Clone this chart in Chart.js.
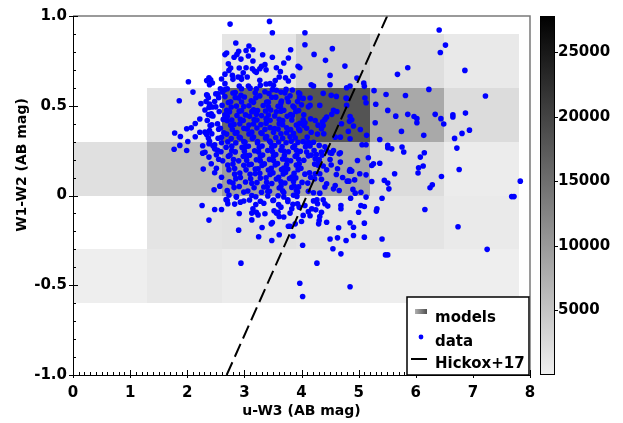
<!DOCTYPE html>
<html>
<head>
<meta charset="utf-8">
<script src="https://cdn.jsdelivr.net/npm/chart.js@4.4.1/dist/chart.umd.min.js"></script>
<style>
  html, body { margin: 0; padding: 0; background: #fff; }
</style>
</head>
<body>
<canvas id="chart" width="623" height="423"></canvas>
<script>
const xTicks = [0, 1, 2, 3, 4, 5, 6, 7, 8];
const yTicks = [-1, -0.5, 0, 0.5, 1];
const colorbarTicks = [5000, 10000, 15000, 20000, 25000];
const colorbarMax = 27800;

// model grid, rows from bottom (-0.6) to top (0.9); null = no models
const modelXEdges = [0, 1.3, 2.6, 3.9, 5.2, 6.5, 7.8];
const modelYEdges = [-0.6, -0.3, 0, 0.3, 0.6, 0.9];
const modelCounts = [
  [230, 930, 460, 460, 230, 230],
  [null, 1390, 1620, 1390, 1390, 700],
  [1850, 5910, 9600, 8600, 2320, 460],
  [null, 1390, 15730, 18120, 8220, 2320],
  [null, null, 1270, 3710, 2090, 810]
];

const hickoxLine = [[2.69, -1.0], [5.5, 1.0]];

const dataPoints = [
  // upper part
  [2.75,0.955],[3.44,0.97],[3.49,0.907],[4.06,0.907],[4.06,0.84],[4.22,0.786],[4.54,0.818],[4.42,0.753],
  [4.76,0.721],[4.50,0.669],[4.50,0.617],[4.97,0.654],[6.41,0.922],[6.52,0.838],[6.43,0.797],[6.86,0.697],
  [5.86,0.712],[5.68,0.675],[6.23,0.591],[7.22,0.554],[5.27,0.584],[5.48,0.563],[5.82,0.557],
  [2.85,0.85],[3.08,0.833],[3.03,0.808],[3.15,0.812],[2.69,0.794],[2.66,0.785],[2.90,0.803],[2.87,0.786],
  [2.94,0.76],[2.82,0.77],[3.07,0.777],[3.15,0.749],[3.32,0.784],[3.49,0.77],[3.69,0.738],[3.81,0.812],
  [3.77,0.766],[3.94,0.72],[3.97,0.712],[2.72,0.734],[2.76,0.71],[2.73,0.697],[2.91,0.71],[3.03,0.712],
  [3.14,0.706],[3.18,0.693],[3.21,0.686],[3.27,0.706],[3.30,0.72],[3.36,0.729],[3.38,0.70],[3.27,0.642],
  [3.56,0.712],[3.63,0.69],[3.61,0.66],[3.54,0.641],[3.72,0.656],[3.77,0.638],[3.85,0.665],[2.98,0.684],
  [2.94,0.658],[2.95,0.647],[3.05,0.66],[2.89,0.66],[2.79,0.669],[2.80,0.647],[2.66,0.676],[2.60,0.649],
  [2.38,0.656],[2.41,0.645],[2.34,0.64],[2.39,0.617],[2.44,0.627],[2.02,0.634],[2.10,0.576],[1.86,0.528],
  [2.35,0.558],[2.39,0.509],[2.44,0.493],[2.48,0.524],[2.54,0.567],[2.58,0.595],[2.66,0.623],[2.62,0.576],
  [2.66,0.59],[2.91,0.61],[2.95,0.595],[2.94,0.558],[2.90,0.543],[3.07,0.61],[3.21,0.595],[3.28,0.614],
  [3.38,0.621],[3.45,0.623],[3.51,0.614],[3.56,0.586],[3.64,0.576],[3.73,0.591],
  [4.17,0.617],[4.21,0.61],[4.85,0.61],[4.79,0.6],[5.09,0.626],[5.10,0.608],[4.38,0.569],[4.52,0.558],
  [4.61,0.552],[4.78,0.543],[5.11,0.543],[5.13,0.517],[5.30,0.508],
  // right part
  [5.51,0.474],[5.65,0.442],[5.86,0.452],[5.97,0.44],[6.02,0.428],[6.02,0.405],[6.34,0.452],[6.44,0.428],
  [6.49,0.398],[6.65,0.45],[6.65,0.437],[6.87,0.459],[6.94,0.364],[6.81,0.346],[6.68,0.318],[6.72,0.264],
  [6.76,0.145],[6.45,0.106],[7.83,0.08],[7.68,-0.006],[7.72,-0.006],[6.74,-0.174],[7.25,-0.30],
  [5.29,0.405],[5.75,0.357],[6.14,0.335],[5.37,0.312],[5.51,0.279],[5.51,0.266],[5.58,0.26],[5.76,0.27],
  [5.79,0.242],[6.15,0.238],[6.08,0.214],[6.05,0.154],[6.04,0.125],[6.13,0.164],[6.29,0.06],[6.25,0.043],
  [5.63,0.121],[5.45,0.084],[5.51,0.069],[5.53,0.037],[5.17,0.21],[5.23,0.167],[5.26,0.177],[5.37,0.18],
  [5.13,0.115],[5.23,0.078],[5.41,-0.015],[6.16,-0.078],
  // dark model cell
  [3.97,0.545],[4.15,0.543],[4.15,0.502],[4.0,0.505],[4.32,0.502],[4.56,0.474],[4.53,0.452],[4.62,0.468],
  [4.44,0.437],[4.41,0.424],[4.37,0.41],[4.38,0.39],[4.35,0.372],[4.39,0.344],[4.70,0.4],[4.68,0.325],
  [4.59,0.325],[4.85,0.44],[4.88,0.422],[4.84,0.413],[4.91,0.387],[4.82,0.357],[5.03,0.368],[5.14,0.335],
  [4.85,0.316],[5.06,0.283],[5.13,0.283],[4.03,0.422],[4.06,0.405],[4.04,0.39],[3.97,0.362],[4.12,0.297],
  [4.09,0.288],[4.21,0.297],[4.79,0.54],[4.79,0.502],
  // x > 4, 0 < y < 0.3
  [4.53,0.236],[4.66,0.232],[4.68,0.186],[4.98,0.195],[4.85,0.145],[4.84,0.136],[4.88,0.136],[4.63,0.149],
  [4.44,0.143],[5.02,0.121],[4.61,0.117],[4.93,0.087],[4.80,0.08],[4.83,0.08],[4.59,0.056],[4.56,0.037],
  [4.90,0.034],[4.94,0.013],[5.04,0.018],[4.66,0.028],[4.44,0.065],[4.41,0.047],[4.32,0.013],[4.21,0.015],
  [4.86,-0.015],[4.09,0.242],[4.26,0.228],[4.35,0.242],[4.24,0.205],[4.30,0.195],[4.38,0.164],[4.32,0.121],
  [4.24,0.121],[4.50,0.238],[4.56,0.251],[4.68,0.238],[4.31,0.279],[4.41,0.272],[4.44,0.251],[4.36,0.225],
  [4.50,0.2],[4.52,0.17],[4.72,0.1],[4.35,0.09],
  // left side
  [1.78,0.348],[1.88,0.329],[1.99,0.372],[2.01,0.301],[1.77,0.258],[1.87,0.279],[1.99,0.251],[2.27,0.277],
  [2.27,0.236],[2.38,0.214],[2.28,0.147],[2.47,0.032],[2.42,0.446],[2.31,0.353],[2.39,0.362],[2.34,0.34],
  [2.38,0.288],[2.48,0.283],[2.48,0.26],[2.34,0.561],[2.37,0.544],[2.38,0.49],[2.42,0.455],[2.37,0.32],
  [2.40,0.39],[2.31,0.241],
  // below zero
  [2.26,-0.056],[2.38,-0.137],[2.48,-0.078],[2.60,-0.078],[2.70,-0.028],[2.71,-0.046],[2.86,-0.009],[2.91,-0.10],
  [2.90,-0.193],[2.93,-0.037],[2.94,-0.377],[3.13,-0.136],[3.13,-0.098],[3.15,-0.074],[3.25,-0.23],[3.31,-0.178],
  [3.34,-0.043],[3.36,-0.102],[3.21,-0.093],[3.24,-0.108],[3.47,-0.158],[3.49,-0.15],[3.48,-0.251],[3.52,-0.085],
  [3.56,-0.098],[3.59,-0.093],[3.61,-0.117],[3.61,-0.219],[3.64,-0.065],[3.69,-0.12],[3.77,-0.171],[3.80,-0.171],
  [3.80,-0.098],[3.83,-0.074],[3.85,-0.227],[3.89,-0.158],[3.93,-0.046],[3.96,-0.065],[3.97,-0.489],[4.02,-0.277],
  [4.02,-0.563],[4.03,-0.111],[4.06,-0.056],[4.0,-0.145],
  [4.15,-0.113],[4.18,-0.074],[4.25,-0.08],[4.27,-0.024],[4.28,-0.046],[4.31,-0.139],[4.30,-0.158],[4.32,-0.117],
  [4.35,-0.093],[4.44,-0.149],[4.46,-0.059],[4.41,-0.046],[4.38,-0.024],[4.50,-0.242],[4.63,-0.236],[4.78,-0.251],
  [4.55,-0.297],[4.65,-0.18],[4.69,-0.056],[4.69,-0.074],[4.85,-0.152],[4.91,-0.177],[4.91,-0.223],[4.69,-0.325],
  [5.0,-0.093],[5.04,-0.056],[5.10,-0.061],[5.10,-0.154],[5.10,-0.232],[5.13,-0.009],[5.32,-0.074],[5.31,-0.087],
  [5.41,-0.242],[5.47,-0.331],[5.51,-0.331],[4.27,-0.377],[4.85,-0.508],[4.21,-0.03],[4.12,-0.09],
  // dense core
  [2.70,0.595],[2.84,0.574],[3.10,0.598],[3.36,0.578],[3.49,0.590],[3.84,0.588],[3.95,0.572],
  [2.50,0.566],[2.66,0.551],[2.80,0.571],[3.00,0.549],[3.19,0.572],[3.27,0.555],[3.43,0.568],[3.55,0.548],
  [3.71,0.572],[3.80,0.556],[3.97,0.566],
  [2.33,0.524],[2.55,0.545],[2.76,0.522],[2.84,0.546],[3.12,0.528],[3.20,0.544],[3.39,0.521],[3.48,0.547],
  [3.65,0.526],[3.75,0.542],[3.93,0.523],[4.03,0.541],
  [2.24,0.512],[2.61,0.502],[2.72,0.518],[2.86,0.498],[2.95,0.521],[3.08,0.500],[3.16,0.519],[3.33,0.501],
  [3.42,0.520],[3.59,0.497],[3.64,0.516],[3.77,0.522],[3.85,0.499],
  [2.31,0.476],[2.50,0.494],[2.69,0.474],[2.77,0.493],[2.95,0.472],[2.99,0.496],[3.16,0.478],[3.23,0.473],
  [3.42,0.494],[3.46,0.476],[3.63,0.497],[3.69,0.475],[3.87,0.492],[3.95,0.473],[4.12,0.494],
  [2.37,0.451],[2.56,0.468],[2.66,0.449],[2.74,0.466],[2.91,0.470],[3.02,0.449],[3.13,0.467],[3.21,0.452],
  [3.37,0.471],[3.42,0.448],[3.56,0.466],[3.64,0.470],[3.81,0.451],[3.90,0.468],[4.04,0.450],
  [2.22,0.426],[2.45,0.443],[2.63,0.424],[2.70,0.442],[2.87,0.446],[2.93,0.425],[3.09,0.441],[3.17,0.423],
  [3.30,0.445],[3.38,0.428],[3.53,0.443],[3.61,0.424],[3.75,0.441],[3.84,0.446],[4.16,0.427],
  [2.14,0.401],[2.35,0.418],[2.53,0.399],[2.70,0.417],[2.78,0.421],[2.92,0.400],[2.98,0.418],[3.16,0.398],
  [3.22,0.420],[3.38,0.403],[3.45,0.419],[3.61,0.399],[3.67,0.417],[3.83,0.421],[3.97,0.402],[4.24,0.418],
  [2.07,0.377],[2.43,0.394],[2.58,0.375],[2.76,0.392],[2.82,0.396],[2.99,0.374],[3.08,0.393],[3.22,0.376],
  [3.29,0.395],[3.45,0.378],[3.53,0.373],[3.67,0.394],[3.74,0.377],[3.91,0.393],[4.09,0.375],[4.29,0.392],
  [2.22,0.352],[2.55,0.369],[2.64,0.350],[2.79,0.368],[2.87,0.351],[3.05,0.371],[3.13,0.353],[3.29,0.349],
  [3.36,0.369],[3.51,0.352],[3.59,0.370],[3.74,0.350],[3.81,0.367],[3.95,0.372],[4.17,0.352],
  [2.14,0.327],[2.43,0.344],[2.60,0.324],[2.69,0.342],[2.84,0.347],[2.91,0.325],[3.08,0.343],[3.16,0.326],
  [3.31,0.345],[3.39,0.328],[3.55,0.323],[3.64,0.344],[3.80,0.327],[3.86,0.346],[4.10,0.325],[4.28,0.342],
  [2.39,0.302],[2.54,0.319],[2.71,0.299],[2.77,0.317],[2.93,0.321],[2.99,0.300],[3.14,0.318],[3.23,0.301],
  [3.37,0.320],[3.44,0.303],[3.60,0.298],[3.67,0.319],[3.82,0.302],[3.89,0.321],[4.03,0.300],
  [2.45,0.277],[2.60,0.294],[2.78,0.275],[2.85,0.293],[3.01,0.297],[3.07,0.274],[3.23,0.292],[3.31,0.276],
  [3.46,0.295],[3.53,0.278],[3.66,0.273],[3.73,0.294],[3.88,0.277],[3.94,0.296],[4.15,0.276],
  [2.53,0.252],[2.68,0.269],[2.78,0.250],[2.96,0.268],[3.02,0.272],[3.18,0.249],[3.26,0.267],[3.41,0.251],
  [3.48,0.270],[3.64,0.253],[3.69,0.248],[3.85,0.269],[3.91,0.252],[4.07,0.271],[4.22,0.251],
  [2.51,0.227],[2.59,0.244],[2.75,0.225],[2.84,0.243],[3.00,0.247],[3.09,0.224],[3.25,0.242],[3.32,0.226],
  [3.49,0.245],[3.55,0.228],[3.70,0.223],[3.77,0.244],[3.92,0.227],[3.98,0.246],[4.17,0.225],
  [2.55,0.202],[2.72,0.219],[2.81,0.200],[2.98,0.218],[3.05,0.222],[3.21,0.199],[3.28,0.217],[3.44,0.201],
  [3.51,0.220],[3.67,0.203],[3.74,0.198],[3.89,0.219],[3.95,0.202],[4.12,0.221],[4.31,0.200],
  [2.42,0.177],[2.62,0.194],[2.80,0.175],[2.90,0.193],[3.04,0.197],[3.12,0.174],[3.28,0.192],[3.35,0.176],
  [3.51,0.195],[3.58,0.178],[3.74,0.173],[3.81,0.194],[3.96,0.177],[4.04,0.196],[4.23,0.175],
  [2.51,0.152],[2.71,0.169],[2.83,0.150],[2.99,0.168],[3.08,0.172],[3.24,0.149],[3.31,0.167],[3.47,0.151],
  [3.54,0.170],[3.69,0.153],[3.76,0.148],[3.91,0.169],[3.99,0.152],[4.29,0.168],
  [2.48,0.127],[2.73,0.144],[2.92,0.125],[3.03,0.143],[3.19,0.147],[3.27,0.124],[3.42,0.142],[3.50,0.126],
  [3.65,0.145],[3.72,0.128],[3.87,0.123],[3.94,0.144],[4.14,0.127],
  [2.60,0.102],[2.83,0.119],[2.93,0.100],[3.10,0.118],[3.19,0.122],[3.38,0.099],[3.45,0.117],[3.60,0.101],
  [3.68,0.120],[3.83,0.103],[3.90,0.098],[4.06,0.119],[4.16,0.102],
  [2.74,0.077],[2.85,0.094],[3.02,0.075],[3.11,0.093],[3.28,0.097],[3.39,0.074],[3.56,0.092],[3.64,0.076],
  [3.79,0.095],[3.86,0.078],[4.01,0.073],[4.23,0.093],
  [2.57,0.052],[2.80,0.069],[2.91,0.050],[3.13,0.068],[3.22,0.072],[3.40,0.049],[3.48,0.067],[3.64,0.051],
  [3.71,0.070],[3.87,0.053],[3.95,0.048],[4.11,0.069],
  [2.70,0.027],[2.82,0.044],[3.06,0.025],[3.17,0.043],[3.34,0.047],[3.44,0.024],[3.61,0.042],[3.67,0.026],
  [3.83,0.045],[3.91,0.028],[4.12,0.023],
  [2.73,0.002],[2.99,0.019],[3.13,0.000],[3.30,0.018],[3.41,0.022],[3.59,-0.001],[3.69,0.017],[3.86,0.001],
  [3.93,0.020],
  [2.68,-0.023],[2.86,-0.006],[3.09,-0.025],[3.20,-0.007],[3.41,-0.003],[3.51,-0.026],[3.69,-0.008],[3.76,-0.024],
  [3.92,-0.005],
  [2.83,-0.048],[2.99,-0.031],[3.20,-0.050],[3.28,-0.032],[3.50,-0.028],[3.60,-0.051],[3.76,-0.033],[3.85,-0.049]
];

const fontFamily = '"DejaVu Sans", "Liberation Sans", sans-serif';
const tickFont = { family: fontFamily, size: 15, weight: 'bold' };

function cellColor(v) {
  const g = Math.round(240 * (1 - v / colorbarMax));
  return `rgb(${g},${g},${g})`;
}

// keep the plot box fixed: no extra room for label overflow
function fixBox(size) {
  return (s) => {
    if (s.isHorizontal()) s.height = size; else s.width = size;
    s.paddingTop = 0;
    s.paddingBottom = 0;
    s.paddingLeft = 0;
    s.paddingRight = 0;
  };
}

const decorations = {
  id: 'decorations',
  beforeDatasetsDraw(chart) {
    const { ctx, scales: { x, y } } = chart;
    ctx.save();
    modelCounts.forEach((row, j) => {
      row.forEach((v, i) => {
        if (v === null) return;
        const x0 = Math.round(x.getPixelForValue(modelXEdges[i]));
        const x1 = Math.round(x.getPixelForValue(modelXEdges[i + 1]));
        const y0 = Math.round(y.getPixelForValue(modelYEdges[j + 1]));
        const y1 = Math.round(y.getPixelForValue(modelYEdges[j]));
        ctx.fillStyle = cellColor(v);
        ctx.fillRect(x0, y0, x1 - x0, y1 - y0);
      });
    });
    ctx.restore();
  },
  afterDraw(chart) {
    const { ctx, chartArea: a, scales: { x, y, cb } } = chart;
    ctx.save();

    // frame
    ctx.lineWidth = 1.5;
    ctx.strokeStyle = '#7a7a7a';
    ctx.beginPath();
    ctx.moveTo(a.left, a.top);
    ctx.lineTo(a.right, a.top);
    ctx.lineTo(a.right, a.bottom);
    ctx.stroke();

    ctx.lineWidth = 1;
    ctx.strokeStyle = '#000';
    ctx.beginPath();
    ctx.moveTo(a.left + 0.5, a.top);
    ctx.lineTo(a.left + 0.5, a.bottom + 0.5);
    ctx.lineTo(a.right, a.bottom + 0.5);
    // inward tick marks every 0.1
    for (let i = 0; i <= 80; i++) {
      const px = Math.round(x.getPixelForValue(i / 10)) + 0.5;
      const major = i % 10 === 0;
      ctx.moveTo(px, a.bottom + (major ? 3 : 0));
      ctx.lineTo(px, a.bottom - (major ? 5 : 3));
    }
    for (let i = -10; i <= 10; i++) {
      const py = Math.round(y.getPixelForValue(i / 10)) + 0.5;
      const major = i % 5 === 0;
      ctx.moveTo(a.left - (major ? 4 : 0), py);
      ctx.lineTo(a.left + (major ? 5 : 3), py);
    }
    ctx.stroke();

    // colorbar
    const cbTop = cb.getPixelForValue(colorbarMax);
    const cbBottom = cb.getPixelForValue(0);
    const cbLeft = cb.left + 10;
    const grad = ctx.createLinearGradient(0, cbBottom, 0, cbTop);
    grad.addColorStop(0, cellColor(0));
    grad.addColorStop(1, cellColor(colorbarMax));
    ctx.fillStyle = grad;
    ctx.fillRect(cbLeft, cbTop, 15, cbBottom - cbTop);
    ctx.strokeStyle = '#000';
    ctx.lineWidth = 1;
    ctx.strokeRect(cbLeft + 0.5, cbTop + 0.5, 14, cbBottom - cbTop - 1);
    ctx.beginPath();
    colorbarTicks.forEach((v) => {
      const py = Math.round(cb.getPixelForValue(v)) + 0.5;
      ctx.moveTo(cbLeft + 15, py);
      ctx.lineTo(cbLeft + 18, py);
    });
    ctx.stroke();

    // legend box
    const lx = a.right - 123;
    const ly = a.bottom - 78;
    ctx.fillStyle = '#fff';
    ctx.fillRect(lx, ly, a.right - lx, a.bottom - ly);
    ctx.lineWidth = 1.5;
    ctx.strokeStyle = '#000';
    ctx.strokeRect(lx, ly, a.right - lx - 1, a.bottom - ly);

    const sw = ctx.createLinearGradient(lx + 8, 0, lx + 20, 0);
    sw.addColorStop(0, '#b0b0b0');
    sw.addColorStop(1, '#505050');
    ctx.fillStyle = sw;
    ctx.fillRect(lx + 8, ly + 12, 12, 5);

    ctx.fillStyle = '#0000ff';
    ctx.beginPath();
    ctx.arc(lx + 14, ly + 40, 2.4, 0, Math.PI * 2);
    ctx.fill();

    ctx.strokeStyle = '#000';
    ctx.lineWidth = 2;
    ctx.beginPath();
    ctx.moveTo(lx + 4, ly + 62);
    ctx.lineTo(lx + 20, ly + 62);
    ctx.stroke();

    ctx.fillStyle = '#000';
    ctx.font = `bold 15px ${fontFamily}`;
    ctx.textAlign = 'left';
    ctx.textBaseline = 'alphabetic';
    ctx.fillText('models', lx + 28, ly + 25);
    ctx.fillText('data', lx + 28, ly + 49);
    ctx.fillText('Hickox+17', lx + 28, ly + 71);

    // axis titles
    ctx.font = `bold 14px ${fontFamily}`;
    ctx.textAlign = 'center';
    ctx.fillText('u-W3 (AB mag)', (a.left + a.right) / 2, 415);
    ctx.translate(22, 165);
    ctx.rotate(-Math.PI / 2);
    ctx.textBaseline = 'middle';
    ctx.fillText('W1-W2 (AB mag)', 0, 0);
    ctx.restore();
  }
};

new Chart(document.getElementById('chart'), {
  type: 'scatter',
  data: {
    datasets: [
      {
        label: 'Hickox+17',
        data: hickoxLine.map(([u, w]) => ({ x: u, y: w })),
        showLine: true,
        borderColor: '#000',
        borderWidth: 2,
        borderDash: [14, 6],
        pointRadius: 0,
        fill: false,
        order: 0
      },
      {
        label: 'data',
        data: dataPoints.map(([u, w]) => ({ x: u, y: w })),
        backgroundColor: '#0000ff',
        borderWidth: 0,
        pointRadius: 2.8,
        order: 1
      }
    ]
  },
  options: {
    responsive: false,
    animation: false,
    devicePixelRatio: 1,
    layout: { padding: { top: 16, right: 0, bottom: 0, left: 0 } },
    plugins: {
      legend: { display: false },
      tooltip: { enabled: false }
    },
    scales: {
      x: {
        type: 'linear',
        position: 'bottom',
        min: 0,
        max: 8,
        afterBuildTicks: (s) => { s.ticks = xTicks.map((v) => ({ value: v })); },
        afterFit: fixBox(48),
        grid: { display: false, drawTicks: false },
        border: { display: false },
        ticks: { color: '#000', font: tickFont, padding: 9, maxRotation: 0, callback: (v) => String(v) }
      },
      y: {
        type: 'linear',
        position: 'left',
        min: -1,
        max: 1,
        afterBuildTicks: (s) => { s.ticks = yTicks.map((v) => ({ value: v })); },
        afterFit: fixBox(73),
        grid: { display: false, drawTicks: false },
        border: { display: false },
        ticks: { color: '#000', font: tickFont, padding: 6, callback: (v) => (v === 0 ? '0' : v.toFixed(1)) }
      },
      cb: {
        type: 'linear',
        position: 'right',
        min: 0,
        max: colorbarMax,
        afterBuildTicks: (s) => { s.ticks = colorbarTicks.map((v) => ({ value: v })); },
        afterFit: fixBox(93),
        grid: { display: false, drawTicks: false },
        border: { display: false },
        ticks: { color: '#000', font: tickFont, padding: 28, callback: (v) => String(v) }
      }
    }
  },
  plugins: [decorations]
});
</script>
</body>
</html>
